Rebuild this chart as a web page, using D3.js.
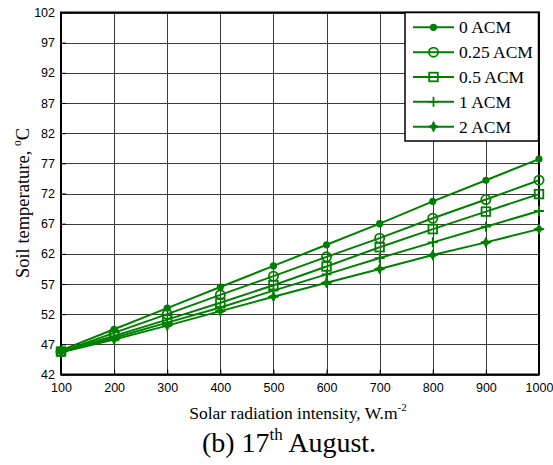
<!DOCTYPE html>
<html>
<head>
<meta charset="utf-8">
<script src="https://cdn.jsdelivr.net/npm/d3@7"></script>
<style>
  body { margin: 0; background: #fff; }
  svg { display: block; }
</style>
</head>
<body>
<svg id="chart" width="553" height="465"></svg>
<script>
// Solar radiation intensity (W/m²) on the x axis
const radiation = [100, 200, 300, 400, 500, 600, 700, 800, 900, 1000];
const yTicks = [42, 47, 52, 57, 62, 67, 72, 77, 82, 87, 92, 97, 102];

// Soil temperature (°C) for each ACM level
const acm0   = [46.0, 49.5, 53.0, 56.5, 60.0, 63.5, 67.0, 70.7, 74.2, 77.7];
const acm025 = [45.8, 48.9, 52.0, 55.2, 58.3, 61.5, 64.6, 67.9, 71.0, 74.2];
const acm05  = [45.8, 48.4, 51.1, 53.9, 56.8, 59.9, 63.1, 66.1, 69.0, 71.9];
const acm1   = [45.7, 48.1, 50.6, 53.1, 55.9, 58.6, 61.3, 63.9, 66.5, 69.1];
const acm2   = [45.7, 47.8, 50.1, 52.5, 54.9, 57.2, 59.5, 61.8, 63.9, 66.1];

const seriesNames = ["0 ACM", "0.25 ACM", "0.5 ACM", "1 ACM", "2 ACM"];
const seriesValues = [acm0, acm025, acm05, acm1, acm2];
const markerKinds = ["dot", "circle", "square", "plus", "star"];

const green = "#008000";
const serif = "Liberation Serif, Times New Roman, serif";
const svg = d3.select("#chart");
const m = { left: 61, right: 539, top: 12.5, bottom: 374.5 };

const x = d3.scaleLinear().domain([100, 1000]).range([m.left, m.right]);
const y = d3.scaleLinear().domain([42, 102]).range([m.bottom, m.top]);
const px = v => Math.round(v) + 0.5;

// grid
const grid = svg.append("g").attr("stroke", "#3a3a3a").attr("stroke-width", 1);
grid.selectAll("line.v").data(radiation).join("line")
  .attr("x1", d => px(x(d))).attr("x2", d => px(x(d)))
  .attr("y1", m.top).attr("y2", m.bottom);
grid.selectAll("line.h").data(yTicks).join("line")
  .attr("x1", m.left).attr("x2", m.right)
  .attr("y1", d => px(y(d))).attr("y2", d => px(y(d)));

// axes (ticks pointing inward)
const xAxis = d3.axisBottom(x).tickValues(radiation).tickSize(-5).tickPadding(9).tickFormat(d3.format("d"));
const yAxis = d3.axisLeft(y).tickValues(yTicks).tickSize(-5).tickPadding(6).tickFormat(d3.format("d"));

const gx = svg.append("g").attr("transform", `translate(0,${m.bottom})`).call(xAxis);
const gy = svg.append("g").attr("transform", `translate(${m.left},0)`).call(yAxis);
[gx, gy].forEach(g => {
  g.select(".domain").remove();
  g.selectAll(".tick line").attr("stroke", "#000");
  g.selectAll(".tick text").attr("font-family", "Liberation Sans, Arial, sans-serif")
    .attr("font-size", 12.5).attr("fill", "#000");
});

// plot frame
svg.append("rect").attr("x", m.left).attr("y", m.top)
  .attr("width", m.right - m.left).attr("height", m.bottom - m.top)
  .attr("fill", "none").attr("stroke", "#000").attr("stroke-width", 2);

// marker drawing
function drawMarker(g, kind, cx, cy) {
  if (kind === "dot") {
    g.append("circle").attr("cx", cx).attr("cy", cy).attr("r", 3.6).attr("fill", green);
  } else if (kind === "circle") {
    g.append("circle").attr("cx", cx).attr("cy", cy).attr("r", 4.6)
      .attr("fill", "none").attr("stroke", green).attr("stroke-width", 1.8);
  } else if (kind === "square") {
    g.append("rect").attr("x", cx - 4.3).attr("y", cy - 4.3).attr("width", 8.6).attr("height", 8.6)
      .attr("fill", "none").attr("stroke", green).attr("stroke-width", 1.8);
  } else if (kind === "plus") {
    g.append("path").attr("d", `M${cx - 5},${cy}H${cx + 5}M${cx},${cy - 5}V${cy + 5}`)
      .attr("stroke", green).attr("stroke-width", 1.8).attr("fill", "none");
  } else if (kind === "star") {
    const s = 5.2, w = 1.6;
    g.append("path")
      .attr("d", `M${cx},${cy - s}L${cx + w},${cy - w}L${cx + s},${cy}L${cx + w},${cy + w}L${cx},${cy + s}L${cx - w},${cy + w}L${cx - s},${cy}L${cx - w},${cy - w}Z`)
      .attr("fill", green).attr("stroke", green).attr("stroke-width", 1);
  }
}

const line = d3.line().x((d, i) => x(radiation[i])).y(d => y(d));

seriesValues.forEach((vals, k) => {
  const g = svg.append("g");
  g.append("path").datum(vals).attr("d", line)
    .attr("fill", "none").attr("stroke", green).attr("stroke-width", 2);
  vals.forEach((v, i) => drawMarker(g, markerKinds[k], x(radiation[i]), y(v)));
});

// legend
const lg = svg.append("g");
lg.append("rect").attr("x", 405).attr("y", 12.5).attr("width", 133.5).attr("height", 128.5)
  .attr("fill", "#fff").attr("stroke", "#000").attr("stroke-width", 1.5);
seriesNames.forEach((name, k) => {
  const ly = 27.3 + k * 24.85;
  const row = lg.append("g");
  row.append("line").attr("x1", 413).attr("x2", 454).attr("y1", ly).attr("y2", ly)
    .attr("stroke", green).attr("stroke-width", 2);
  drawMarker(row, markerKinds[k], 433.5, ly);
  row.append("text").attr("x", 459).attr("y", ly + 6).text(name)
    .attr("font-family", serif).attr("font-size", 17.5).attr("fill", "#000");
});

// axis titles
const xt = svg.append("text").attr("x", 298).attr("y", 419).attr("text-anchor", "middle")
  .attr("font-family", serif).attr("font-size", 17.5).attr("fill", "#000");
xt.append("tspan").text("Solar radiation intensity, W.m");
xt.append("tspan").attr("dy", -8).attr("font-size", 11).text("-2");

const yt = svg.append("text").attr("transform", "translate(29,203) rotate(-90)")
  .attr("text-anchor", "middle").attr("font-family", serif).attr("font-size", 18.5).attr("fill", "#000");
yt.append("tspan").text("Soil temperature, ");
yt.append("tspan").attr("dy", -8).attr("font-size", 11.5).text("o");
yt.append("tspan").attr("dy", 8).text("C");

// caption
const cap = svg.append("text").attr("x", 289).attr("y", 452).attr("text-anchor", "middle")
  .attr("font-family", serif).attr("font-size", 28).attr("fill", "#000");
cap.append("tspan").text("(b) 17");
cap.append("tspan").attr("dy", -12).attr("font-size", 17).text("th");
cap.append("tspan").attr("dy", 12).text(" August.");
</script>
</body>
</html>
